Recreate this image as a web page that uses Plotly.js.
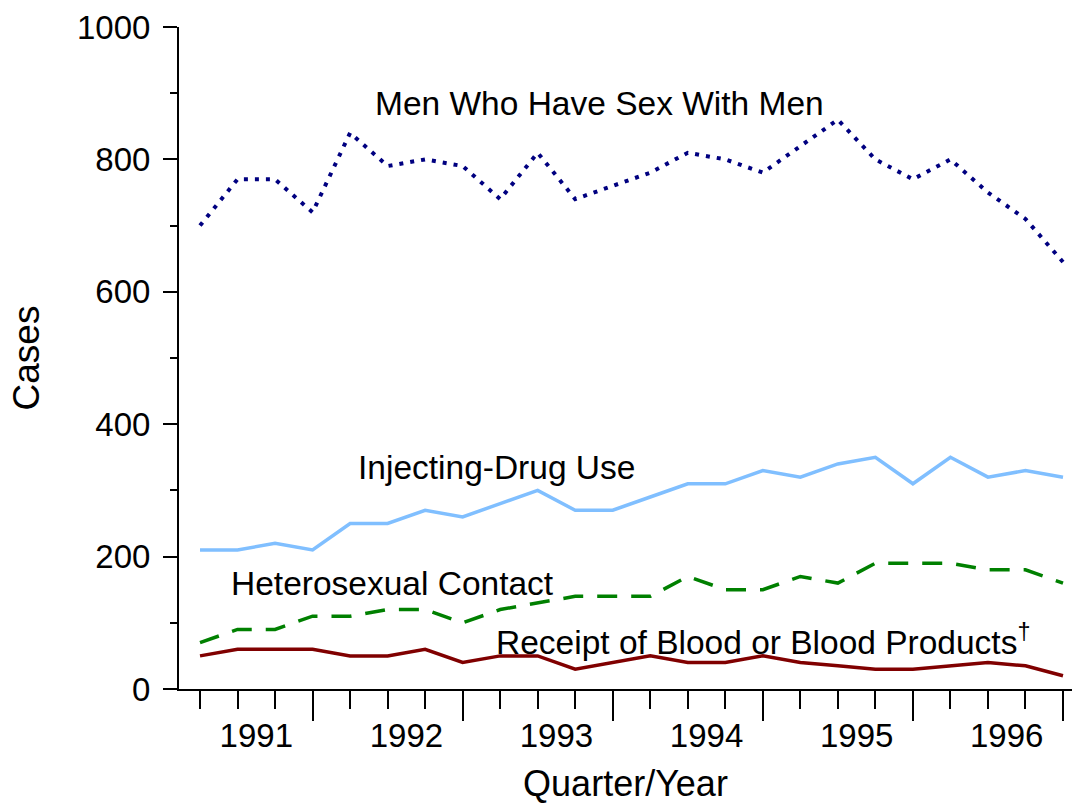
<!DOCTYPE html>
<html>
<head>
<meta charset="utf-8">
<script src="https://cdn.plot.ly/plotly-3.0.1.min.js"></script>
<style>html,body{margin:0;padding:0;background:#fff;}#chart{width:1072px;height:804px;}</style>
</head>
<body>
<div id="chart"></div>
<script>
// Quarters 1991 Q1 .. 1996 Q4 (index 0..23)
const quarters = [
  "1991 Q1","1991 Q2","1991 Q3","1991 Q4",
  "1992 Q1","1992 Q2","1992 Q3","1992 Q4",
  "1993 Q1","1993 Q2","1993 Q3","1993 Q4",
  "1994 Q1","1994 Q2","1994 Q3","1994 Q4",
  "1995 Q1","1995 Q2","1995 Q3","1995 Q4",
  "1996 Q1","1996 Q2","1996 Q3","1996 Q4"
];
const years = ["1991","1992","1993","1994","1995","1996"];

const msm = [700,770,770,720, 840,790,800,790, 740,810,740,760, 780,810,800,780, 820,860,800,770, 800,750,710,645];
const idu = [210,210,220,210, 250,250,270,260, 280,300,270,270, 290,310,310,330, 320,340,350,310, 350,320,330,320];
const hetero = [70,90,90,110, 110,120,120,100, 120,130,140,140, 140,170,150,150, 170,160,190,190, 190,180,180,160];
const blood = [50,60,60,60, 50,50,60,40, 50,50,30,40, 50,40,40,50, 40,35,30,30, 35,40,35,20];

const seriesNames = ["Men Who Have Sex With Men","Injecting-Drug Use","Heterosexual Contact","Receipt of Blood or Blood Products<sup>†</sup>"];

const xi = quarters.map((q,i)=>i);
const yearCenters = years.map((y,i)=>i*4+1.5);
const yearEnds = years.map((y,i)=>i*4+3);

const FONT = "Liberation Sans, Arial, Helvetica, sans-serif";

const traces = [
  {x: xi, y: msm, mode:"lines", line:{color:"#000080", width:4, dash:"4px,7px"}, name:seriesNames[0]},
  {x: xi, y: idu, mode:"lines", line:{color:"#80bfff", width:3.5}, name:seriesNames[1]},
  {x: xi, y: hetero, mode:"lines", line:{color:"#008000", width:3.5, dash:"20px,14px"}, name:seriesNames[2]},
  {x: xi, y: blood, mode:"lines", line:{color:"#800000", width:3.5}, name:seriesNames[3]},
  {x: yearCenters, y: years.map(()=>null), xaxis:"x2", yaxis:"y", mode:"lines", showlegend:false, hoverinfo:"skip"}
];

const xr = [-0.56, 23.24];
const ANN = 33.5;

const layout = {
  width:1072, height:804,
  margin:{l:179, r:0, t:27, b:115},
  showlegend:false,
  paper_bgcolor:"#fff", plot_bgcolor:"#fff",
  font:{family:FONT, color:"#000", size:33},
  xaxis:{
    range:xr, showgrid:false, zeroline:false,
    showline:true, linecolor:"#000", linewidth:2,
    tickmode:"array", tickvals:yearEnds,
    ticks:"outside", ticklen:30, tickwidth:2, tickcolor:"#000",
    showticklabels:false,
    minor:{dtick:1, tick0:0, ticklen:18, tickwidth:2, tickcolor:"#000", ticks:"outside", showgrid:false}
  },
  xaxis2:{
    range:xr, overlaying:"x", anchor:"y", side:"bottom",
    showgrid:false, zeroline:false, showline:false,
    tickmode:"array", tickvals:yearCenters, ticktext:years,
    ticks:"outside", ticklen:17, tickcolor:"rgba(0,0,0,0)",
    tickfont:{family:FONT, size:33, color:"#000"},
    title:{text:"Quarter/Year", font:{family:FONT, size:36, color:"#000"}, standoff:32}
  },
  yaxis:{
    range:[0,1000], showgrid:false, zeroline:false,
    showline:true, linecolor:"#000", linewidth:2,
    tickmode:"array", tickvals:[0,200,400,600,800,1000],
    ticks:"outside", ticklen:14, tickwidth:2, tickcolor:"#000",
    ticklabelstandoff:6,
    tickfont:{family:FONT, size:33, color:"#000"},
    minor:{dtick:100, tick0:0, ticklen:7, tickwidth:2, tickcolor:"#000", ticks:"outside", showgrid:false},
    title:{text:"Cases", font:{family:FONT, size:37, color:"#000"}, standoff:26}
  },
  annotations:[
    {x:4.61, y:884, xref:"x", yref:"y", text:seriesNames[0], showarrow:false, xanchor:"left", yanchor:"middle", font:{family:FONT,size:ANN,color:"#000"}},
    {x:4.16, y:334, xref:"x", yref:"y", text:seriesNames[1], showarrow:false, xanchor:"left", yanchor:"middle", font:{family:FONT,size:ANN,color:"#000"}},
    {x:0.77, y:160, xref:"x", yref:"y", text:seriesNames[2], showarrow:false, xanchor:"left", yanchor:"middle", font:{family:FONT,size:ANN,color:"#000"}},
    {x:7.84, y:74, xref:"x", yref:"y", text:seriesNames[3], showarrow:false, xanchor:"left", yanchor:"middle", font:{family:FONT,size:ANN,color:"#000"}}
  ]
};

Plotly.newPlot("chart", traces, layout, {displayModeBar:false, staticPlot:true});
</script>
</body>
</html>
